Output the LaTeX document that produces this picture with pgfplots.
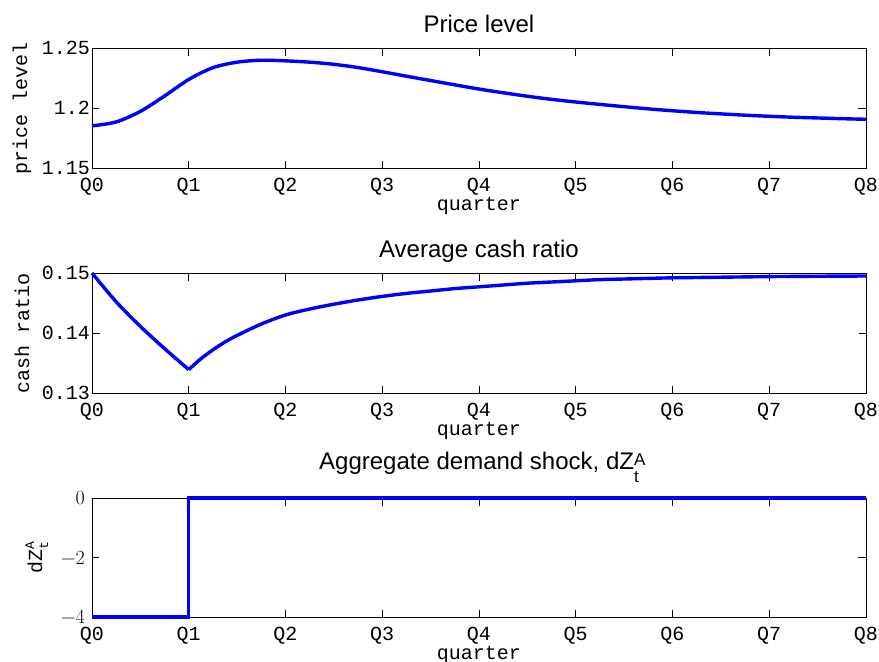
\documentclass[border=0pt]{standalone}
\usepackage{pgfplots}
\pgfplotsset{compat=1.18}
\usepackage{fontspec}
\newfontfamily\mono{Liberation Mono}
\newfontfamily\sans{Liberation Sans}
\newcommand\monofont{\mono\fontsize{20bp}{24bp}\selectfont}
\newcommand\titlefont{\sans\fontsize{24bp}{28bp}\selectfont}

\pgfplotsset{
  panel/.style={
    scale only axis, width=774bp, height=120bp, anchor=south west,
    xmin=0, xmax=8, xtick={0,...,8},
    xticklabels={Q0,Q1,Q2,Q3,Q4,Q5,Q6,Q7,Q8},
    tick align=inside, major tick length=7.5bp,
    every tick/.style={black, line width=0.8bp},
    axis line style={line width=0.9bp},
    clip=false,
    ticklabel style={font=\monofont, inner sep=0pt},
    xticklabel style={anchor=north, yshift=-10bp},
    yticklabel style={anchor=east, xshift=-2bp},
    xlabel={quarter},
    xlabel style={font=\monofont, at={(axis description cs:0.5,0)}, anchor=base, yshift=-42bp},
    ylabel style={font=\monofont, at={(axis description cs:-0.0904,0.5)}, anchor=center},
    title style={font=\titlefont, at={(axis description cs:0.5,1)}, anchor=base, yshift=10bp},
    every axis plot/.style={blue, line width=3.4bp, line join=round},
  }
}

\begin{document}
\begin{tikzpicture}
\useasboundingbox (0,0) rectangle (879bp,-662bp);

% Price level
\begin{axis}[panel, at={(92bp,-168bp)},
  ymin=1.15, ymax=1.25, ytick={1.15,1.2,1.25}, yticklabels={1.15,1.2,1.25},
  ylabel={price level}, title={Price level}]
\addplot[smooth] coordinates {
  (0,1.1851) (0.25,1.1884) (0.5,1.1972) (0.75,1.2100) (1,1.2238)
  (1.25,1.2336) (1.5,1.2382) (1.75,1.2398) (2,1.2393) (2.25,1.2382)
  (2.5,1.2364) (2.75,1.2337) (3,1.2302) (3.25,1.2265) (3.5,1.2229)
  (3.75,1.2193) (4,1.2158) (4.25,1.2127) (4.5,1.2098) (4.75,1.2072)
  (5,1.2050) (5.25,1.2030) (5.5,1.2011) (5.75,1.1993) (6,1.1977)
  (6.25,1.1963) (6.5,1.1951) (6.75,1.1940) (7,1.1931) (7.25,1.1923)
  (7.5,1.1917) (7.75,1.1911) (8,1.1906)};
\end{axis}

% Average cash ratio: decline until Q1, then recovery
\begin{axis}[panel, at={(92bp,-393bp)},
  ymin=0.13, ymax=0.15, ytick={0.13,0.14,0.15}, yticklabels={0.13,0.14,0.15},
  ylabel={cash ratio}, title={Average cash ratio}]
\addplot[smooth] coordinates {
  (0,0.1500) (0.25,0.1452) (0.5,0.1411) (0.75,0.1374) (1,0.1339)};
\addplot[smooth] coordinates {
  (1,0.1339) (1.125,0.1357) (1.25,0.1372) (1.375,0.1385) (1.5,0.1396)
  (1.75,0.1415) (2,0.1430)
  (2.25,0.1440) (2.5,0.1448) (2.75,0.1455) (3,0.1461) (3.25,0.1466)
  (3.5,0.1470) (3.75,0.1474) (4,0.1477) (4.25,0.1480) (4.5,0.1483)
  (4.75,0.1485) (5,0.1487) (5.25,0.1489) (5.5,0.1490) (5.75,0.1491)
  (6,0.1492) (6.25,0.14925) (6.5,0.1493) (6.75,0.14935) (7,0.1494)
  (7.25,0.14943) (7.5,0.14946) (7.75,0.14948) (8,0.1495)};
\end{axis}

% Aggregate demand shock
\begin{axis}[panel, at={(92bp,-617bp)}, height=119bp,
  ymin=-4, ymax=0, ytick={-4,-2,0}, yticklabels={−4,−2,0},
  yticklabel style={font=\rmfamily\fontsize{20bp}{22bp}\selectfont, xshift=-5bp},
  ylabel style={at={(axis description cs:-0.0711,0.5)}},
  ylabel={dZ\rlap{\raisebox{8bp}{\fontsize{13bp}{13bp}\selectfont A}}\raisebox{-6bp}{\fontsize{13bp}{13bp}\selectfont t}},
  title style={yshift=13bp},
  title={Aggregate demand shock, dZ\rlap{\raisebox{4bp}{\fontsize{17bp}{17bp}\selectfont A}}\raisebox{-13bp}{\fontsize{17bp}{17bp}\selectfont t}}]
\addplot[line join=miter] coordinates {(0,-4) (1,-4) (1,0) (8,0)};
\end{axis}
\end{tikzpicture}
\end{document}
